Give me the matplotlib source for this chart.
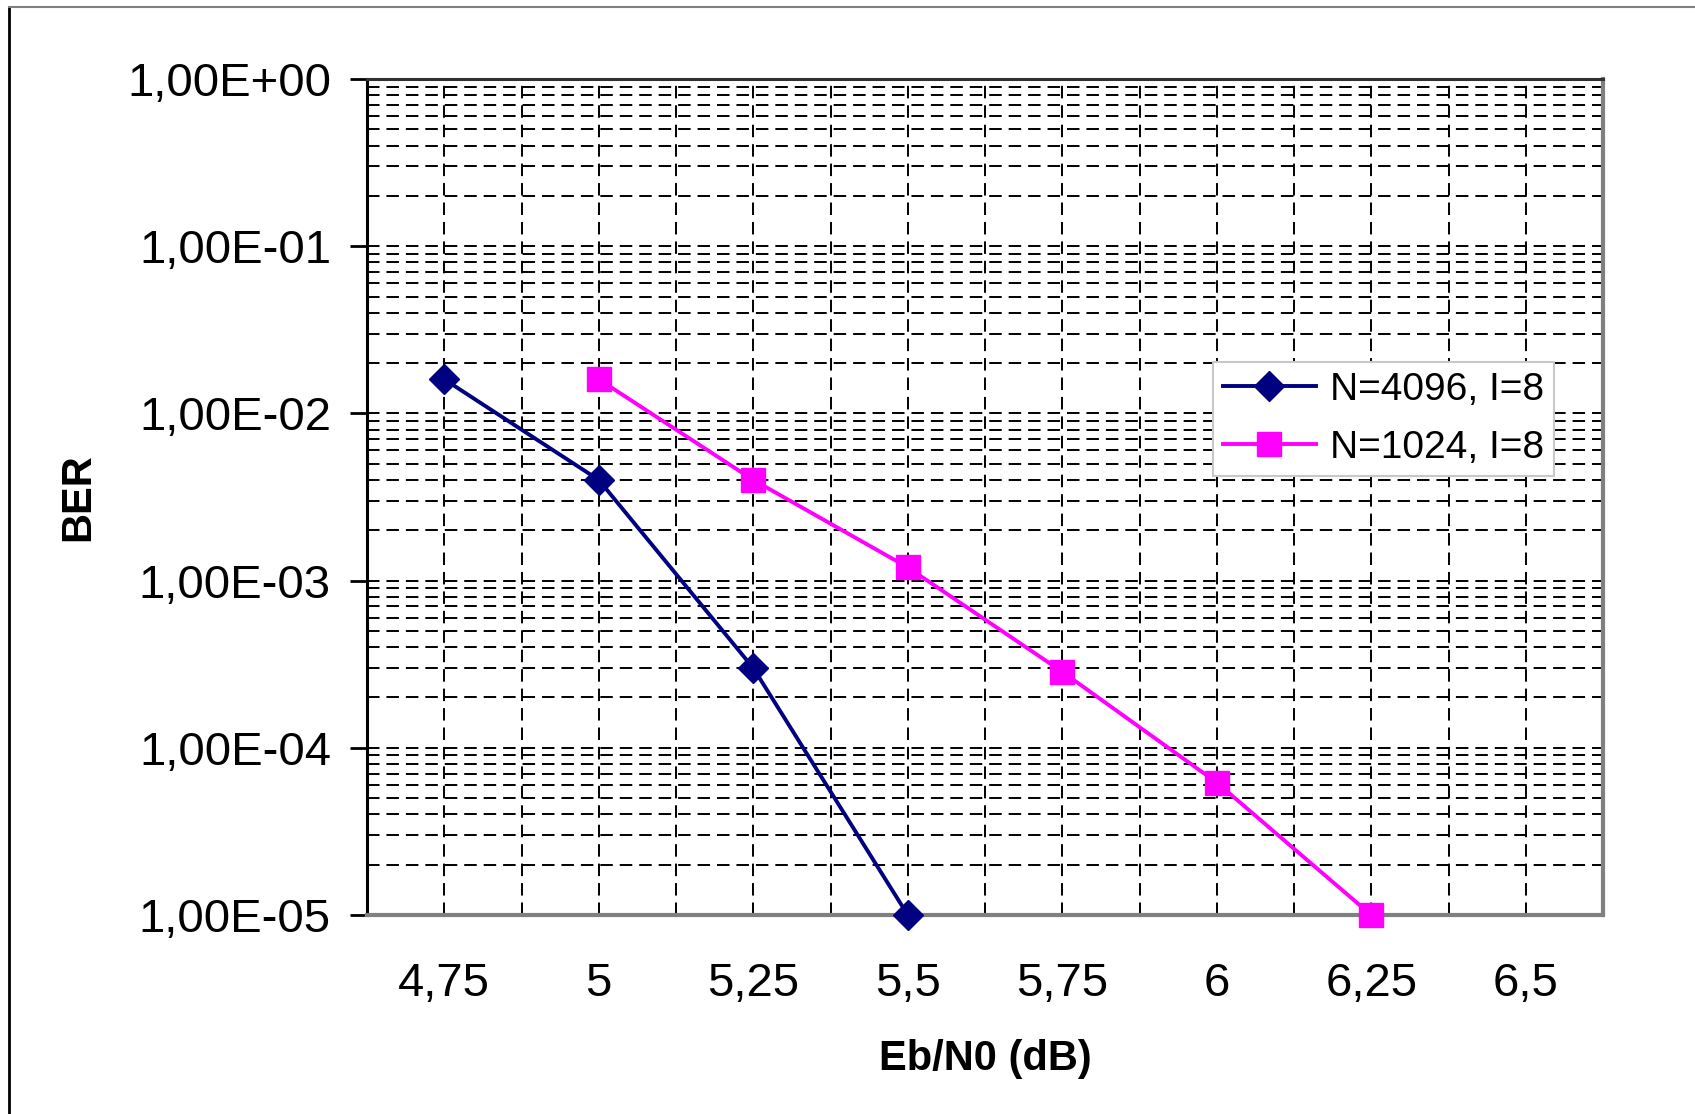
import numpy as np
import matplotlib
matplotlib.use("Agg")
import matplotlib.pyplot as plt
from matplotlib.lines import Line2D
from matplotlib.ticker import FixedLocator, FuncFormatter, NullLocator

plt.rcParams['font.family'] = ['Liberation Sans', 'DejaVu Sans']

# Données
categories = ['4,75', '5', '5,25', '5,5', '5,75', '6', '6,25', '6,5']
ber_4096 = [1.6e-2, 4.0e-3, 3.0e-4, 1.0e-5]          # de 4,75 à 5,5
ber_1024 = [1.6e-2, 4.0e-3, 1.2e-3, 2.85e-4, 6.2e-5, 1.0e-5]  # de 5 à 6,25
labels = ['N=4096, I=8', 'N=1024, I=8']

W, H = 1695, 1114
fig = plt.figure(figsize=(W / 100, H / 100), dpi=100)
ax = fig.add_axes([367 / W, 1 - 915 / H, (1603 - 367) / W, (915 - 79) / H])

pos = np.arange(len(categories))
x_4096 = pos[0:len(ber_4096)]
x_1024 = pos[1:1 + len(ber_1024)]

ax.set_yscale('log')
ax.set_ylim(1e-5, 1)
ax.set_xlim(-0.5, len(categories) - 0.5)

# quadrillage en pointillés, façon Excel
dash = (0, (9.0 / 1.4, 5.0 / 1.4))
decades = 10.0 ** np.arange(-5, 1)
minors = [m * d for d in decades[:-1] for m in range(2, 10)]
for y in list(decades[1:-1]) + minors:
    ax.axhline(y, color='black', lw=1.4, linestyle=dash, zorder=1)
for xv in np.arange(0, len(categories) - 0.5 + 0.01, 0.5):
    ax.axvline(xv, color='black', lw=1.4, linestyle=dash, zorder=1)

ax.plot(x_4096, ber_4096, color='#000080', lw=2.8, marker='D', ms=15,
        mec='#000080', mfc='#000080', label=labels[0], zorder=3,
        clip_on=False)
ax.plot(x_1024, ber_1024, color='#FF00FF', lw=2.8, marker='s', ms=17,
        mec='#FF00FF', mfc='#FF00FF', label=labels[1], zorder=3,
        clip_on=False)

ax.yaxis.set_major_locator(FixedLocator(decades))
ax.yaxis.set_minor_locator(NullLocator())
ax.yaxis.set_major_formatter(FuncFormatter(lambda v, p: f"{v:.2E}".replace('.', ',')))
ax.set_xticks(pos)
ax.set_xticklabels(categories)

ax.tick_params(axis='y', which='major', direction='out', length=12, width=2,
               labelsize=34, pad=14, color='black')
ax.tick_params(axis='x', length=0, labelsize=34, pad=34)

ax.spines['left'].set_color('black')
ax.spines['left'].set_linewidth(2.2)
ax.spines['top'].set_color('#303030')
ax.spines['top'].set_linewidth(2.2)
for s in ['bottom', 'right']:
    ax.spines[s].set_color('#808080')
    ax.spines[s].set_linewidth(3)

ax.set_xlabel('Eb/N0 (dB)', fontsize=30, fontweight='bold')
ax.set_ylabel('BER', fontsize=30, fontweight='bold')
ax.xaxis.set_label_coords(0.5, (915 - 1059) / (915 - 79))
ax.xaxis.label.set_va('center')
ax.yaxis.set_label_coords((78 - 367) / (1603 - 367), 0.5)
ax.yaxis.label.set_va('center')

leg = ax.legend(loc='upper left', bbox_to_anchor=((1213 - 367) / 1236, (915 - 362) / 836),
                fontsize=28, frameon=True, fancybox=False, framealpha=1,
                edgecolor='#c8c8c8', handlelength=2.4, handletextpad=0.35,
                borderpad=0.25, labelspacing=0.57, borderaxespad=0)
leg.get_frame().set_linewidth(1.5)

# cadre de la figure (gauche et haut)
fig.add_artist(Line2D([9 / W, 9 / W], [0, 1 - 7 / H], transform=fig.transFigure,
                      color='black', lw=2))
fig.add_artist(Line2D([9 / W, 1], [1 - 7 / H, 1 - 7 / H], transform=fig.transFigure,
                      color='#808080', lw=1.5))

fig.savefig('out.png', dpi=100)
